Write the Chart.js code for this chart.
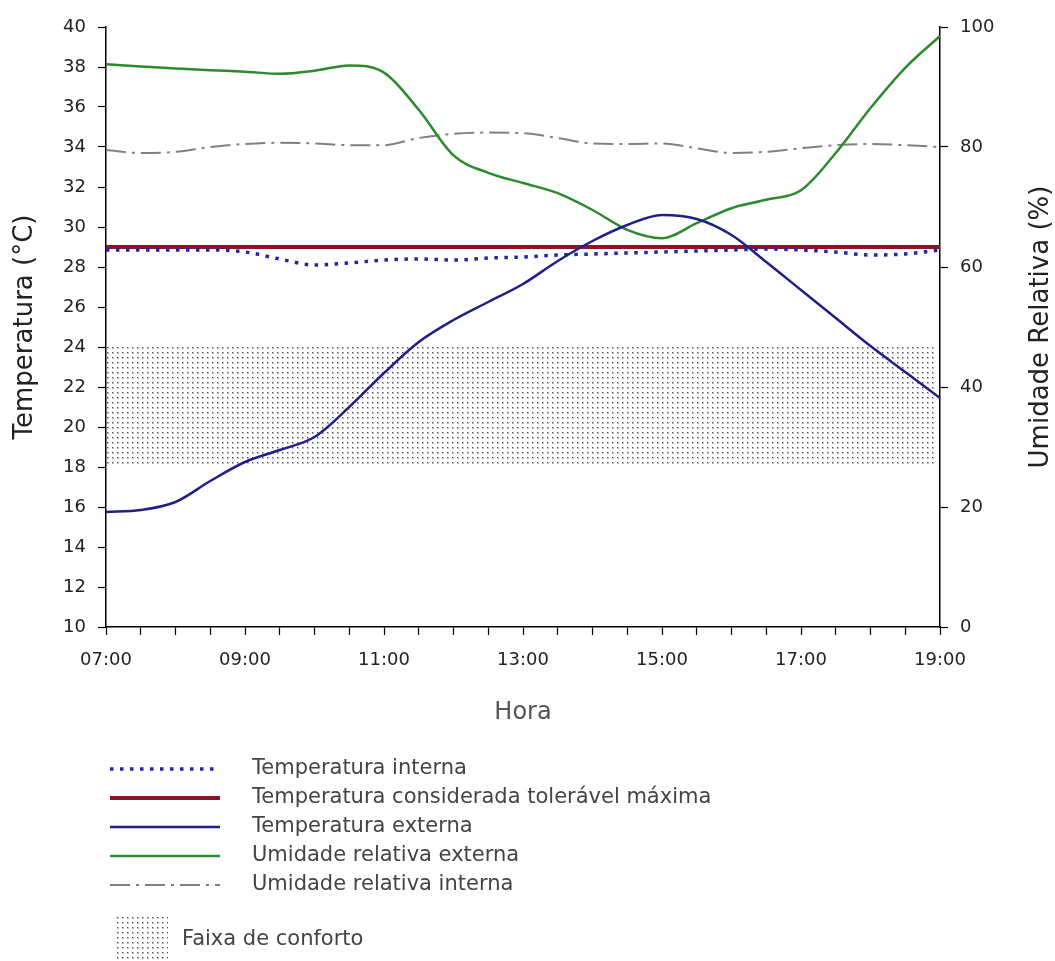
<!DOCTYPE html>
<html>
<head>
<meta charset="utf-8">
<script src="https://cdn.jsdelivr.net/npm/chart.js@4"></script>
<style>
  html, body { margin: 0; padding: 0; background: #fff; }
  canvas { display: block; }
</style>
</head>
<body>
<canvas id="chart" width="1055" height="961"></canvas>
<script>
// horas (a cada 30 min)
const hours = [7, 7.5, 8, 8.5, 9, 9.5, 10, 10.5, 11, 11.5, 12, 12.5, 13,
  13.5, 14, 14.5, 15, 15.5, 16, 16.5, 17, 17.5, 18, 18.5, 19];

const tempInterna = [28.85, 28.85, 28.85, 28.85, 28.75, 28.4, 28.1, 28.2, 28.35, 28.4, 28.35, 28.45, 28.5,
  28.6, 28.65, 28.7, 28.75, 28.8, 28.85, 28.9, 28.85, 28.75, 28.6, 28.65, 28.85];

const tempExterna = [15.75, 15.85, 16.25, 17.3, 18.25, 18.85, 19.5, 21.0, 22.7, 24.25, 25.35, 26.25, 27.15,
  28.3, 29.3, 30.1, 30.6, 30.4, 29.6, 28.25, 26.85, 25.45, 24.05, 22.75, 21.45];

const umidExterna = [93.8, 93.4, 93.1, 92.8, 92.55, 92.2, 92.7, 93.6, 92.4, 86.2, 78.6, 75.7, 74.0,
  72.3, 69.5, 66.2, 64.8, 67.3, 69.8, 71.2, 72.8, 79.0, 86.5, 93.2, 98.5];

const umidInterna = [79.5, 79.0, 79.2, 80.0, 80.5, 80.7, 80.6, 80.3, 80.3, 81.5, 82.2, 82.4, 82.3,
  81.5, 80.6, 80.5, 80.6, 79.8, 79.0, 79.2, 79.8, 80.3, 80.5, 80.3, 80.0];

// temperatura considerada toleravel maxima
const limiteHours = [7, 19];
const limiteMax = [29, 29];

// faixa de conforto
const faixaHours = [7, 18.92];
const faixaMin = [18, 18];
const faixaMax = [24, 24];

const xTickHours = [7, 9, 11, 13, 15, 17, 19];
const xTickLabels = ['07:00', '09:00', '11:00', '13:00', '15:00', '17:00', '19:00'];

const legendLabels = [
  'Temperatura interna',
  'Temperatura considerada tolerável máxima',
  'Temperatura externa',
  'Umidade relativa externa',
  'Umidade relativa interna'
];
const faixaLabel = 'Faixa de conforto';

const pts = (xs, ys) => xs.map((x, i) => ({ x: x, y: ys[i] }));

// dotted fill for the comfort band
function makeDots() {
  const c = document.createElement('canvas');
  c.width = 5;
  c.height = 5;
  const g = c.getContext('2d');
  g.fillStyle = '#bdbdbd';
  g.fillRect(2, 2, 2, 2);
  g.fillStyle = '#4a4a4a';
  g.fillRect(2, 2, 1, 1);
  return g.createPattern(c, 'repeat');
}
const dots = makeDots();

const styles = [
  { color: '#2424a6', width: 3.5, dash: [3.5, 6.5] },
  { color: '#8c1424', width: 4, dash: [] },
  { color: '#1f1f8a', width: 2.5, dash: [] },
  { color: '#2b8a2b', width: 2.5, dash: [] },
  { color: '#808080', width: 2, dash: [20, 6, 3, 6] }
];

const extras = {
  id: 'extras',
  afterDraw(chart) {
    const ctx = chart.ctx;
    ctx.save();
    // right axis title, reading bottom to top
    ctx.translate(1041, 327);
    ctx.rotate(-Math.PI / 2);
    ctx.font = '26px "DejaVu Sans"';
    ctx.fillStyle = '#222';
    ctx.textAlign = 'center';
    ctx.textBaseline = 'middle';
    ctx.fillText('Umidade Relativa (%)', 0, 0);
    ctx.restore();

    // legend
    ctx.save();
    ctx.font = '21px "DejaVu Sans"';
    ctx.textBaseline = 'middle';
    legendLabels.forEach((txt, i) => {
      const y = 769 + i * 29;
      const s = styles[i];
      ctx.beginPath();
      ctx.strokeStyle = s.color;
      ctx.lineWidth = s.width;
      ctx.setLineDash(s.dash);
      ctx.moveTo(110, y);
      ctx.lineTo(220, y);
      ctx.stroke();
      ctx.setLineDash([]);
      ctx.fillStyle = '#444';
      ctx.fillText(txt, 252, y);
    });
    ctx.fillStyle = dots;
    ctx.fillRect(115, 915, 53, 46);
    ctx.fillStyle = '#444';
    ctx.fillText(faixaLabel, 182, 940);
    ctx.restore();
  }
};

const lineDs = (label, data, s, axis) => ({
  label: label,
  data: data,
  yAxisID: axis,
  borderColor: s.color,
  borderWidth: s.width,
  borderDash: s.dash,
  borderCapStyle: 'butt',
  pointRadius: 0,
  fill: false,
  cubicInterpolationMode: 'monotone'
});

new Chart(document.getElementById('chart'), {
  type: 'line',
  data: {
    datasets: [
      lineDs(legendLabels[2], pts(hours, tempExterna), styles[2], 'y'),
      lineDs(legendLabels[3], pts(hours, umidExterna), styles[3], 'y1'),
      lineDs(legendLabels[0], pts(hours, tempInterna), styles[0], 'y'),
      lineDs(legendLabels[1], pts(limiteHours, limiteMax), styles[1], 'y'),
      lineDs(legendLabels[4], pts(hours, umidInterna), styles[4], 'y1'),
      {
        label: 'faixa min',
        data: pts(faixaHours, faixaMin),
        yAxisID: 'y',
        borderWidth: 0,
        pointRadius: 0,
        fill: false
      },
      {
        label: faixaLabel,
        data: pts(faixaHours, faixaMax),
        yAxisID: 'y',
        borderWidth: 0,
        pointRadius: 0,
        backgroundColor: dots,
        fill: '-1'
      }
    ]
  },
  options: {
    responsive: false,
    animation: false,
    devicePixelRatio: 1,
    layout: { padding: { top: 27, bottom: 234, left: 0, right: 0 } },
    font: { family: '"DejaVu Sans"' },
    plugins: {
      legend: { display: false },
      tooltip: { enabled: false }
    },
    scales: {
      x: {
        type: 'linear',
        min: 7,
        max: 19,
        afterFit: s => { s.height = 100; },
        border: { color: '#000', width: 1.5 },
        grid: { drawOnChartArea: false, tickLength: 8, tickColor: '#000', tickWidth: 1.2 },
        ticks: {
          stepSize: 0.5,
          autoSkip: false,
          maxRotation: 0,
          padding: 15,
          color: '#222',
          font: { family: '"DejaVu Sans"', size: 18 },
          callback: v => {
            const i = xTickHours.indexOf(v);
            return i >= 0 ? xTickLabels[i] : '';
          }
        },
        title: {
          display: true,
          text: 'Hora',
          color: '#555',
          padding: { top: 0, bottom: 0 },
          font: { family: '"DejaVu Sans"', size: 24 }
        }
      },
      y: {
        position: 'left',
        min: 10,
        max: 40,
        afterFit: s => { s.width = 106; },
        border: { color: '#000', width: 1.5 },
        grid: { drawOnChartArea: false, tickLength: 8, tickColor: '#000', tickWidth: 1.2 },
        ticks: {
          stepSize: 2,
          padding: 12,
          color: '#222',
          font: { family: '"DejaVu Sans"', size: 18 }
        },
        title: {
          display: true,
          text: 'Temperatura (°C)',
          color: '#222',
          padding: { top: 10, bottom: 0 },
          font: { family: '"DejaVu Sans"', size: 26 }
        }
      },
      y1: {
        position: 'right',
        min: 0,
        max: 100,
        afterFit: s => { s.width = 115; },
        border: { color: '#000', width: 1.5 },
        grid: { drawOnChartArea: false, tickLength: 8, tickColor: '#000', tickWidth: 1.2 },
        ticks: {
          stepSize: 20,
          padding: 12,
          color: '#222',
          font: { family: '"DejaVu Sans"', size: 18 }
        }
      }
    }
  },
  plugins: [extras]
});
</script>
</body>
</html>
